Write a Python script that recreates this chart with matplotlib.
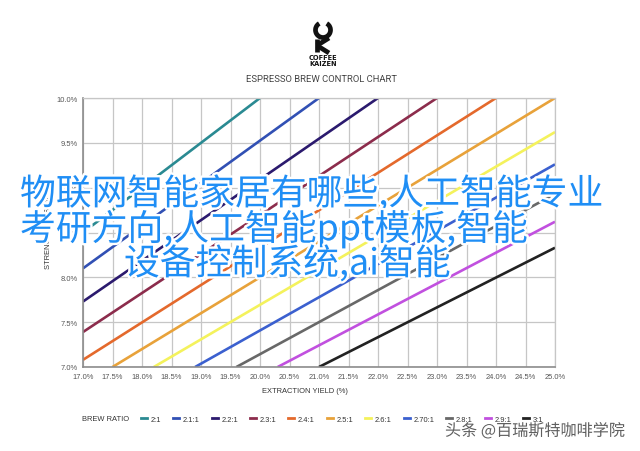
import numpy as np
import matplotlib
matplotlib.use("Agg")
import matplotlib.pyplot as plt
import matplotlib.patheffects as pe
from matplotlib.lines import Line2D
from matplotlib.patches import Arc

# ---------------- data ----------------
ratio_labels = ['2:1', '2.1:1', '2.2:1', '2.3:1', '2.4:1', '2.5:1',
                '2.6:1', '2.70:1', '2.8:1', '2.9:1', '3:1']
# where each brew-ratio line enters / leaves the plot box (EY %, TDS %)
ey_start = [17.0, 17.0, 17.0, 17.0, 17.0, 17.5, 18.2, 18.9, 19.6, 20.3, 21.0]
tds_start = [8.50, 8.10, 7.73, 7.39, 7.08, 7.00, 7.00, 7.00, 7.00, 7.00, 7.00]
ey_end = [20.0, 21.0, 22.0, 23.0, 24.0, 25.0, 25.0, 25.0, 25.0, 25.0, 25.0]
tds_end = [10.0, 10.0, 10.0, 10.0, 10.0, 10.0, 9.62, 9.26, 8.93, 8.62, 8.33]
line_colors = ['#2a8a92', '#3150b4', '#2b1a6e', '#8c2c4c', '#e4692c', '#e8a23a',
               '#f4f25c', '#3b60cf', '#686868', '#c150df', '#222222']

x_ticks = [17.0, 17.5, 18.0, 18.5, 19.0, 19.5, 20.0, 20.5, 21.0, 21.5,
           22.0, 22.5, 23.0, 23.5, 24.0, 24.5, 25.0]
x_tick_labels = ['17.0%', '17.5%', '18.0%', '18.5%', '19.0%', '19.5%', '20.0%',
                 '20.5%', '21.0%', '21.5%', '22.0%', '22.5%', '23.0%', '23.5%',
                 '24.0%', '24.5%', '25.0%']
y_ticks = [7.0, 7.5, 8.0, 8.5, 9.0, 9.5, 10.0]
y_tick_labels = ['7.0%', '7.5%', '8.0%', '8.5%', '9.0%', '9.5%', '10.0%']

title = 'ESPRESSO BREW CONTROL CHART'
x_label = 'EXTRACTION YIELD (%)'
y_label = 'STRENGTH (TDS %)'
legend_title = 'BREW RATIO'
overlay_lines = ['物联网智能家居有哪些,人工智能专业',
                 '考研方向,人工智能ppt模板,智能',
                 '设备控制系统,ai智能']
watermark = '头条 @百瑞斯特咖啡学院'

# ---------------- figure ----------------
W, H = 640, 452
fig = plt.figure(figsize=(W / 100, H / 100), dpi=100)
fig.patch.set_facecolor('white')
plt.rcParams['font.family'] = ['Liberation Sans', 'DejaVu Sans']

def fx(px):
    return px / W

def fy(py):
    return 1 - py / H

L, R, T, B = 83, 555, 99, 368
ax = fig.add_axes([fx(L), fy(B), (R - L) / W, (B - T) / H])
ax.set_xlim(17, 25)
ax.set_ylim(7, 10)
ax.set_xticks(x_ticks, x_tick_labels)
ax.set_yticks(y_ticks, y_tick_labels)
ax.tick_params(length=0, labelsize=5.4, labelcolor='#555555')
ax.tick_params(axis='x', pad=4)
ax.tick_params(axis='y', pad=4)
ax.grid(True, color='#c6c6c6', lw=0.9)
ax.set_axisbelow(True)
for s in ['top', 'right']:
    ax.spines[s].set_color('#c6c6c6')
    ax.spines[s].set_linewidth(0.9)
for s in ['left', 'bottom']:
    ax.spines[s].set_color('#8c8c8c')
    ax.spines[s].set_linewidth(1.2)

for xs, ys, xe, ye, c in zip(ey_start, tds_start, ey_end, tds_end, line_colors):
    ax.plot([xs, xe], [ys, ye], color=c, lw=1.9, solid_capstyle='butt')

# axis labels
fig.text(fx(305), fy(392), x_label, ha='center', va='center', fontsize=5.4, color='#333333')
fig.text(fx(48), fy(233), y_label, ha='center', va='center', rotation=90,
         fontsize=5.4, color='#333333')

# title
fig.text(fx(321), fy(80), title, ha='center', va='center', fontsize=6.8,
         color='#444444', family=['Roboto', 'DejaVu Sans'])

# legend
fig.text(fx(82), fy(420), legend_title, ha='left', va='center', fontsize=5.4, color='#333333')
handles = [Line2D([], [], color=c, lw=2) for c in line_colors]
leg = fig.legend(handles, ratio_labels, ncol=len(ratio_labels), loc='center left',
                 bbox_to_anchor=(fx(141), fy(420)), frameon=False, fontsize=5.4,
                 handlelength=0.8, handletextpad=0.5, columnspacing=1.58,
                 borderpad=0, borderaxespad=0)
for t in leg.get_texts():
    t.set_color('#333333')

# logo
lax = fig.add_axes([fx(300), fy(68), 45 / W, 50 / H])
lax.set_xlim(0, 45)
lax.set_ylim(0, 50)
lax.axis('off')
lax.add_patch(Arc((23, 37), 15, 15, theta1=120, theta2=420, lw=3.4, color='#111111'))
lax.plot([17, 17], [15, 28], color='#111111', lw=3.4, solid_capstyle='butt')
lax.plot([17, 29], [21.5, 29], color='#111111', lw=3.4, solid_capstyle='butt')
lax.plot([17, 29], [21.5, 14], color='#111111', lw=3.4, solid_capstyle='butt')
lax.text(23, 10.5, 'COFFEE', ha='center', va='center', fontsize=4.8,
         fontweight='bold', color='#111111', family=['DejaVu Sans'])
lax.text(23, 4.5, 'KAIZEN', ha='center', va='center', fontsize=4.8,
         fontweight='bold', color='#111111', family=['DejaVu Sans'])

# overlay text
cjk = ['Noto Sans CJK SC', 'DejaVu Sans']
stroke = [pe.withStroke(linewidth=3.5, foreground='white')]
overlay_pos = [(20, 195), (20, 230), (124, 265)]
for txt, (px, py) in zip(overlay_lines, overlay_pos):
    fig.text(fx(px), fy(py), txt, ha='left', va='center', fontsize=25.8,
             color='#1f8ef5', family=cjk, path_effects=stroke)

fig.text(fx(445), fy(432), watermark, ha='left', va='center', fontsize=11.6,
         color='#5e5e5e', family=cjk,
         path_effects=[pe.withStroke(linewidth=1.5, foreground='white')])

fig.savefig('out.png', dpi=100, facecolor='white')
